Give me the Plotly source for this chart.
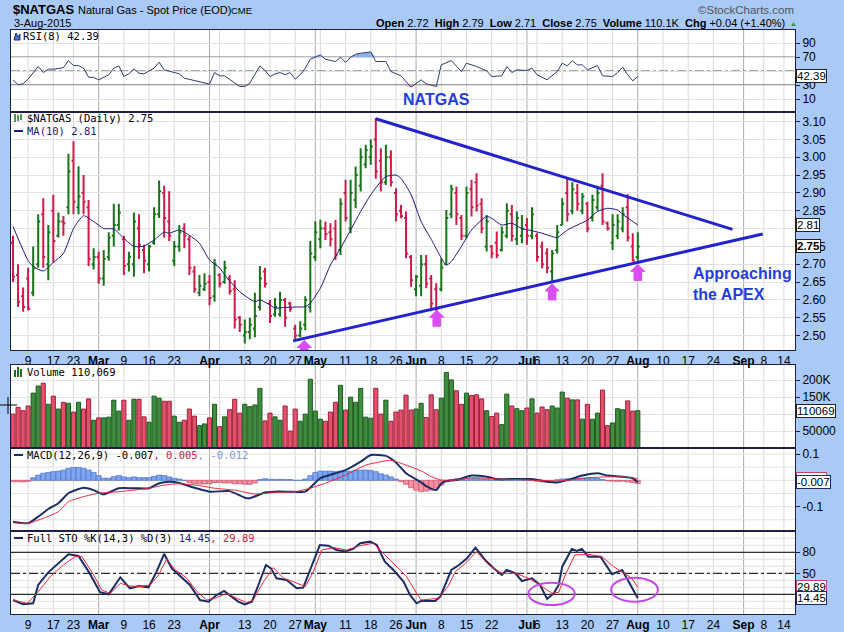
import plotly.graph_objects as go
import pandas as pd

W, H = 844, 632

# ---------------- calendar / ticks ----------------
first_day = "2015-02-04"
axis_end_day = "2015-09-30"
holidays = ["2015-02-16", "2015-04-03", "2015-05-25", "2015-07-03", "2015-09-07"]

tick_dates = ["2015-02-09", "2015-02-17", "2015-02-23", "2015-03-02", "2015-03-09", "2015-03-16",
              "2015-03-23", "2015-04-01", "2015-04-13", "2015-04-20", "2015-04-27", "2015-05-01",
              "2015-05-11", "2015-05-18", "2015-05-26", "2015-06-01", "2015-06-08", "2015-06-15",
              "2015-06-22", "2015-07-01", "2015-07-06", "2015-07-13", "2015-07-20", "2015-07-27",
              "2015-08-03", "2015-08-10", "2015-08-17", "2015-08-24", "2015-09-01", "2015-09-08",
              "2015-09-14"]
tick_labels = ["9", "17", "23", "<b>Mar</b>", "9", "16", "23", "<b>Apr</b>", "13", "20", "27", "<b>May</b>",
               "11", "18", "26", "<b>Jun</b>", "8", "15", "22", "<b>Jul</b>", "6", "13", "20", "27",
               "<b>Aug</b>", "10", "17", "24", "<b>Sep</b>", "8", "14"]
extra_grid_dates = ["2015-04-06", "2015-05-04", "2015-06-29"]
month_dates = ["2015-03-02", "2015-04-01", "2015-05-01", "2015-06-01", "2015-07-01", "2015-08-03", "2015-09-01"]

# ---------------- price data ----------------
bar_colors = list("RRRRGGRGRG" "RGRGRRGRGG" "GGRGGRRGGG" "RRGGRRRGGR" "GRGRRRGGGG"
                  "RRGGRRRGGG" "GGRRRGRGGG" "GGRRGRRRRR" "GGRRRGGGRR" "GRRRGRRGGR"
                  "GGRGRRRGGG" "RGRGRGGRRG" "GGRRG")

highs = [2.78, 2.70, 2.635, 2.69, 2.75, 2.84, 2.885, 2.81, 2.895, 2.845,
         2.835, 3.01, 3.045, 2.975, 2.95, 2.88, 2.745, 2.735, 2.74, 2.79,
         2.87, 2.87, 2.78, 2.735, 2.845, 2.84, 2.755, 2.755, 2.86, 2.935,
         2.92, 2.905, 2.765, 2.81, 2.815, 2.78, 2.695, 2.67, 2.675, 2.67,
         2.715, 2.675, 2.71, 2.67, 2.655, 2.555, 2.545, 2.55, 2.62, 2.695,
         2.69, 2.60, 2.605, 2.623, 2.605, 2.595, 2.53, 2.54, 2.61, 2.765,
         2.82, 2.825, 2.82, 2.815, 2.824, 2.885, 2.937, 2.937, 2.974, 3.025,
         3.035, 3.05, 3.11, 3.025, 3.035, 3.02, 2.913, 2.866, 2.848, 2.726,
         2.67, 2.726, 2.726, 2.67, 2.647, 2.717, 2.852, 2.923, 2.918, 2.838,
         2.918, 2.937, 2.955, 2.885, 2.838, 2.754, 2.792, 2.806, 2.871, 2.866,
         2.848, 2.838, 2.83, 2.86, 2.787, 2.764, 2.745, 2.74, 2.81, 2.885,
         2.941, 2.93, 2.925, 2.90, 2.875, 2.895, 2.92, 2.955, 2.82, 2.84,
         2.84, 2.86, 2.896, 2.787, 2.79]
lows = [2.65, 2.58, 2.567, 2.57, 2.61, 2.69, 2.69, 2.655, 2.705, 2.775,
        2.78, 2.84, 2.84, 2.84, 2.84, 2.695, 2.685, 2.645, 2.64, 2.71,
        2.75, 2.795, 2.67, 2.68, 2.665, 2.715, 2.675, 2.68, 2.755, 2.83,
        2.775, 2.765, 2.695, 2.735, 2.745, 2.67, 2.62, 2.61, 2.625, 2.585,
        2.595, 2.635, 2.645, 2.615, 2.52, 2.51, 2.478, 2.49, 2.495, 2.57,
        2.635, 2.535, 2.553, 2.553, 2.525, 2.567, 2.488, 2.495, 2.515, 2.565,
        2.71, 2.745, 2.768, 2.75, 2.712, 2.726, 2.82, 2.787, 2.857, 2.904,
        2.969, 2.979, 2.94, 2.904, 2.922, 2.918, 2.82, 2.829, 2.717, 2.637,
        2.61, 2.61, 2.633, 2.568, 2.555, 2.624, 2.698, 2.829, 2.81, 2.768,
        2.773, 2.834, 2.848, 2.787, 2.736, 2.717, 2.717, 2.736, 2.773, 2.764,
        2.754, 2.759, 2.755, 2.77, 2.708, 2.689, 2.675, 2.652, 2.73, 2.81,
        2.82, 2.84, 2.85, 2.84, 2.79, 2.82, 2.85, 2.81, 2.795, 2.74,
        2.77, 2.79, 2.764, 2.708, 2.71]
opens = [2.76, 2.67, 2.61, 2.66, 2.62, 2.70, 2.84, 2.70, 2.85, 2.78,
         2.82, 2.86, 2.99, 2.86, 2.90, 2.86, 2.70, 2.72, 2.66, 2.72,
         2.78, 2.81, 2.77, 2.70, 2.70, 2.80, 2.74, 2.70, 2.76, 2.84,
         2.90, 2.82, 2.71, 2.75, 2.80, 2.77, 2.68, 2.62, 2.63, 2.65,
         2.61, 2.67, 2.65, 2.66, 2.63, 2.55, 2.50, 2.51, 2.52, 2.58,
         2.68, 2.59, 2.56, 2.56, 2.60, 2.59, 2.52, 2.50, 2.53, 2.58,
         2.72, 2.77, 2.80, 2.79, 2.80, 2.74, 2.90, 2.80, 2.88, 2.92,
         2.98, 3.00, 3.05, 2.99, 2.93, 3.00, 2.90, 2.85, 2.83, 2.72,
         2.63, 2.64, 2.70, 2.66, 2.63, 2.63, 2.70, 2.84, 2.90, 2.83,
         2.78, 2.91, 2.93, 2.87, 2.75, 2.75, 2.76, 2.74, 2.78, 2.84,
         2.77, 2.78, 2.81, 2.78, 2.78, 2.75, 2.73, 2.68, 2.74, 2.81,
         2.90, 2.85, 2.90, 2.85, 2.87, 2.83, 2.86, 2.92, 2.815, 2.76,
         2.78, 2.80, 2.86, 2.75, 2.72]
closes = [2.665, 2.595, 2.58, 2.575, 2.69, 2.82, 2.72, 2.79, 2.765, 2.82,
          2.815, 2.96, 2.875, 2.89, 2.875, 2.715, 2.72, 2.66, 2.715, 2.775,
          2.81, 2.845, 2.695, 2.72, 2.82, 2.755, 2.71, 2.75, 2.84, 2.905,
          2.83, 2.78, 2.75, 2.79, 2.78, 2.69, 2.63, 2.64, 2.645, 2.605,
          2.70, 2.645, 2.69, 2.625, 2.545, 2.53, 2.51, 2.53, 2.555, 2.66,
          2.645, 2.555, 2.58, 2.60, 2.55, 2.575, 2.50, 2.52, 2.60, 2.73,
          2.79, 2.80, 2.785, 2.77, 2.725, 2.87, 2.83, 2.90, 2.95, 3.00,
          3.02, 3.03, 2.96, 2.93, 3.00, 2.93, 2.84, 2.835, 2.73, 2.655,
          2.665, 2.70, 2.645, 2.59, 2.575, 2.69, 2.83, 2.91, 2.84, 2.78,
          2.90, 2.86, 2.865, 2.80, 2.82, 2.73, 2.725, 2.79, 2.85, 2.78,
          2.83, 2.80, 2.78, 2.84, 2.72, 2.70, 2.69, 2.73, 2.79, 2.87,
          2.84, 2.91, 2.87, 2.89, 2.80, 2.88, 2.90, 2.82, 2.80, 2.81,
          2.82, 2.84, 2.775, 2.71, 2.75]
volume_k = [100, 120, 110, 124, 162, 183, 191, 129, 153, 115,
            135, 132, 106, 135, 115, 145, 82, 89, 89, 91,
            141, 109, 141, 82, 144, 144, 92, 76, 153, 147,
            138, 138, 94, 76, 82, 115, 94, 66, 71, 89,
            129, 63, 92, 113, 144, 103, 129, 122, 127, 176,
            80, 103, 92, 82, 124, 50, 115, 79, 100, 203,
            109, 85, 79, 106, 135, 185, 112, 150, 135, 176,
            91, 88, 176, 100, 141, 79, 106, 112, 156, 112,
            115, 132, 90, 157, 113, 147, 223, 201, 169, 129,
            162, 155, 157, 145, 110, 93, 103, 69, 159, 124,
            116, 110, 118, 145, 103, 121, 113, 124, 118, 165,
            147, 142, 142, 85, 129, 85, 103, 171, 66, 74,
            116, 113, 139, 109, 110.069]

ma10_days = [0, 3, 4, 6, 8, 10, 12, 14, 16, 18, 20, 22, 24, 26, 28, 30, 31, 33, 35, 37, 39, 41, 42,
             45, 48, 49, 51, 52, 54, 56, 58, 59, 61, 63, 65, 67, 69, 71, 73, 74, 76, 77, 79, 81,
             83, 86, 87, 89, 91, 94, 95, 97, 99, 101, 103, 105, 107, 108, 110, 112, 114, 116, 118,
             120, 121, 123, 124]
ma10 = [2.806, 2.71, 2.694, 2.681, 2.705, 2.73, 2.80, 2.836, 2.82, 2.80, 2.799, 2.773, 2.75, 2.751,
        2.768, 2.79, 2.787, 2.796, 2.781, 2.759, 2.712, 2.69, 2.67,
        2.623, 2.595, 2.60, 2.586, 2.577, 2.579, 2.58, 2.581, 2.591, 2.633, 2.698, 2.745, 2.796,
        2.848, 2.895, 2.932, 2.946, 2.95, 2.941, 2.895, 2.82,
        2.77, 2.698, 2.708, 2.75, 2.796, 2.834, 2.829, 2.81, 2.815, 2.80, 2.794, 2.787, 2.778,
        2.775, 2.796, 2.81, 2.824, 2.848, 2.857, 2.852, 2.84, 2.82, 2.81]

# ---------------- indicators ----------------
rsi_days = [0, 1, 2, 3, 5, 6, 7, 8, 10, 11, 12, 13, 14, 15, 16, 17, 19, 20, 21, 22, 23, 24, 25, 26,
            28, 29, 30, 32, 33, 34, 36, 37, 39, 40, 41, 42, 43, 44, 45, 46, 47, 49, 50, 51, 52, 53,
            54, 55, 56, 57, 58, 59, 61, 62, 64, 65, 66, 67, 68, 69, 71, 72, 74, 75, 77, 79, 80, 81,
            82, 84, 85, 87, 89, 90, 92, 94, 95, 97, 98, 99, 100, 102, 103, 104, 106, 108, 109, 110,
            111, 112, 113, 114, 116, 117, 119, 120, 121, 122, 123, 124]
rsi8 = [37.6, 30.5, 32, 38.6, 56.7, 48, 52.9, 52.9, 55, 65, 58, 58, 54.3, 41.4, 41, 37.6, 44.8, 54.3,
        57.6, 42.4, 46.2, 53.3, 47.1, 46.2, 54.3, 62.9, 51.9, 48, 46.2, 40, 36.7, 35.7, 31.4, 48,
        43.3, 43.3, 38.6, 32.9, 28.1, 28.1, 32.9, 57.6, 51, 42.4, 46.2, 48, 44.8, 48, 38.6, 44.8,
        54.3, 67.1, 73.3, 67.1, 63.8, 70, 62.4, 70, 74.3, 75.7, 77.6, 63.8, 63.8, 49.5, 43.3, 27.1,
        32.9, 37.6, 31.9, 28.1, 59, 65.2, 49.5, 61.4, 56.7, 50.5, 42.4, 43.3, 56.7, 48, 51.9, 51,
        54.3, 44.8, 37.6, 49.5, 61.4, 57.6, 64.8, 59, 59, 51.9, 58, 43.3, 42.4, 48, 55.7, 44.8,
        36.2, 42.39]

macd_days = [0, 3, 5, 7, 9, 11, 14, 16, 18, 21, 24, 27, 29, 31, 33, 36, 39, 43, 46, 47, 50, 52, 55,
             58, 61, 64, 66, 69, 71, 74, 76, 78, 81, 82, 84, 85, 86, 88, 91, 94, 96, 100, 103, 106,
             108, 110, 113, 116, 118, 121, 123, 124]
macd = [-0.157, -0.163, -0.138, -0.109, -0.087, -0.049, -0.028, -0.037, -0.053, -0.030, -0.030,
        -0.030, -0.011, -0.005, -0.010, -0.028, -0.043, -0.041, -0.066, -0.068, -0.046, -0.043,
        -0.043, -0.043, 0.008, 0.027, 0.039, 0.071, 0.096, 0.093, 0.068, 0.027, -0.008, -0.022,
        -0.037, -0.012, -0.003, 0.001, 0.018, 0.014, 0.005, 0.005, 0.005, -0.005, -0.008, 0.001,
        0.018, 0.027, 0.018, 0.014, 0.008, -0.007]
signal_days = [0, 3, 6, 9, 11, 14, 17, 21, 24, 27, 30, 33, 37, 40, 44, 48, 52, 56, 59, 62, 66, 70, 72,
               75, 78, 81, 83, 85, 88, 91, 94, 97, 100, 104, 108, 111, 114, 118, 121, 123, 124]
signal = [-0.161, -0.163, -0.144, -0.119, -0.081, -0.062, -0.049, -0.043, -0.037, -0.030, -0.018,
          -0.013, -0.020, -0.030, -0.037, -0.052, -0.046, -0.043, -0.030, -0.011, 0.020, 0.058,
          0.067, 0.076, 0.058, 0.036, 0.014, 0.001, 0.001, 0.010, 0.008, 0.004, 0.003, 0.000,
          -0.003, 0.002, 0.010, 0.013, 0.013, 0.010, 0.005]
macd_hist = [-0.005, -0.005, -0.006, -0.004, 0.010, 0.020, 0.027, 0.030, 0.033, 0.035,
             0.039, 0.046, 0.049, 0.049, 0.046, 0.039, 0.030, 0.018, 0.008, 0.008,
             0.014, 0.018, 0.013, 0.010, 0.013, 0.010, 0.010, 0.010, 0.015, 0.020,
             0.018, 0.013, 0.008, 0.005, 0.000, -0.008, -0.013, -0.014, -0.014, -0.013,
             -0.008, -0.008, -0.010, -0.010, -0.013, -0.013, -0.015, -0.015, -0.010, 0.003,
             0.006, 0.004, 0.003, 0.004, 0.003, 0.003, 0.000, 0.000, 0.005, 0.018,
             0.030, 0.035, 0.035, 0.035, 0.033, 0.035, 0.033, 0.035, 0.039, 0.039,
             0.039, 0.038, 0.033, 0.025, 0.020, 0.013, 0.005, -0.005, -0.015, -0.028,
             -0.037, -0.043, -0.041, -0.037, -0.030, -0.018, -0.005, 0.003, 0.006, 0.006,
             0.007, 0.008, 0.007, 0.006, 0.005, 0.002, 0.001, 0.000, 0.002, 0.001,
             0.002, 0.002, 0.001, 0.001, -0.004, -0.006, -0.007, -0.005, 0.002, 0.005,
             0.006, 0.007, 0.007, 0.008, 0.007, 0.008, 0.007, 0.003, -0.002, -0.003,
             -0.004, -0.003, -0.006, -0.009, -0.012]

stok_days = [0, 2, 4, 5, 7, 9, 11, 13, 15, 17.3, 19, 21.3, 23.2, 25, 26.9, 28.5, 30, 31.5, 33.2, 35.1,
             37.1, 38.8, 40.4, 41.9, 43.1, 44.7, 46, 47.4, 48.7, 50.2, 51.2, 52.3, 54.3, 56.3, 57.6,
             59.3, 60.9, 62.6, 64.2, 65.9, 67.5, 68.9, 70.9, 72.2, 73.8, 75.5, 77.5, 78.8, 80.1, 81,
             83.8, 84.8, 87, 88.5, 90.1, 91.8, 93.7, 95.4, 97, 98, 99.7, 101, 103, 104.6, 106, 107.3,
             108.3, 109, 110.9, 111.9, 112.9, 114.2, 116.6, 118.9, 120.9, 122.2, 124]
sto_k = [11.9, 5.7, 7.1, 33.3, 51.4, 64.3, 77.1, 74.8, 52.4, 22.9, 20, 44.3, 28.6, 31.9, 30, 52.4,
         77.6, 57.1, 45.2, 33.3, 11.9, 9.5, 19, 24.8, 18.1, 9.5, 5.7, 9.5, 33.3, 61.9, 57.1, 42.9,
         40.5, 28.6, 29.5, 61.9, 90.5, 89.5, 83.3, 81, 84.8, 92.9, 95.2, 90.5, 66.7, 54.8, 38.1, 19,
         7.1, 10.5, 10.5, 16.7, 54.8, 61.9, 71.4, 86.7, 69, 57.1, 47.6, 54.8, 50, 39, 42.9, 33.3,
         13.3, 21.4, 33.3, 59.5, 84.8, 81.9, 84.8, 73.8, 73.8, 48.6, 54.8, 38.1, 14.45]
stod_days = [0, 2.8, 5, 7.4, 10, 12.3, 13.7, 16, 17.6, 19.3, 21.3, 23.2, 25.2, 27.2, 28.9, 30.5, 32.2,
             34.5, 36.5, 38.4, 40.4, 42.4, 44.4, 46.4, 47.7, 49.7, 51.7, 53.7, 55.6, 58, 59.6, 61.3,
             63.6, 66.2, 68.9, 71.5, 73.5, 75.5, 78.1, 80.1, 81, 84.5, 86.5, 87.8, 89.8, 92, 94.4, 97,
             99.7, 102.3, 104.3, 107, 108.3, 109.6, 111.5, 114.2, 116.9, 119.2, 121.2, 122.8, 124]
sto_d = [11.9, 7.1, 23.8, 45.2, 61.9, 73.8, 73.8, 47.6, 26.2, 21.4, 35.7, 31.9, 31, 33.3, 47.6, 70.5,
         54.8, 42.9, 23.8, 11.9, 15.2, 21.4, 14.3, 8.1, 11.9, 38.1, 58.1, 42.9, 38.1, 31, 52.4, 83.3,
         86.7, 83.3, 89.5, 92.9, 78.6, 64.3, 45.2, 21.4, 11.9, 14.3, 33.3, 52.4, 64.3, 81, 61.9, 50,
         50, 42.9, 34.3, 21.4, 22.9, 47.6, 76.2, 77.1, 73.8, 59.5, 50, 42.9, 29.89]

# analyst drawings (trendlines, arrows, circles)
upper_trend_x, upper_trend_y = [72.0, 142.8], [3.108, 2.798]
lower_trend_x, lower_trend_y = [55.6, 148.8], [2.485, 2.785]
arrow_days = [57.8, 84.1, 107.0, 124.0]

# ---------------- styling ----------------
BG = "#A9C9F7"
AX = "#1e1e46"
GRID = "#e2e2e2"
WEEK = "#dadada"
MONTH = "#ababab"
GREEN = "#187318"
RED = "#d01a4a"
NAVY = "#1c2c66"
SIGRED = "#e8283c"
BLUE_TXT = "#1f3fdc"
TREND = "#2222d0"
MAGENTA = "#dc4cf4"
ARIAL = "Arial, Liberation Sans, sans-serif"
MONO = "DejaVu Sans Mono, monospace"

cal = [d.strftime("%Y-%m-%d") for d in pd.bdate_range(first_day, axis_end_day)]
cal = [d for d in cal if d not in holidays]
pos = {d: i for i, d in enumerate(cal)}
tick_pos = [pos[d] for d in tick_dates]
XR = [-0.4, 155.2]
days = list(range(len(closes)))


def pyd(top, bottom):
    return [1 - bottom / H, 1 - top / H]


panels = [  # (top px, bottom px, y range)
    (30, 112, [-8.5, 109]),
    (112, 350, [2.4595, 3.127]),
    (365, 448, [0, 245000]),
    (448, 531, [-0.1924, 0.1228]),
    (531, 614, [-8.1, 110.4]),
]

fig = go.Figure()

# ---- RSI ----
fig.add_trace(go.Scatter(x=rsi_days, y=[70] * len(rsi_days), mode="lines", line=dict(width=0),
                         hoverinfo="skip", xaxis="x", yaxis="y"))
fig.add_trace(go.Scatter(x=rsi_days, y=[max(v, 70) for v in rsi8], mode="lines", line=dict(width=0),
                         fill="tonexty", fillcolor="#8fb0ea", hoverinfo="skip", xaxis="x", yaxis="y"))
fig.add_trace(go.Scatter(x=rsi_days, y=[30] * len(rsi_days), mode="lines", line=dict(width=0),
                         hoverinfo="skip", xaxis="x", yaxis="y"))
fig.add_trace(go.Scatter(x=rsi_days, y=[min(v, 30) for v in rsi8], mode="lines", line=dict(width=0),
                         fill="tonexty", fillcolor="#f2a2b6", hoverinfo="skip", xaxis="x", yaxis="y"))
fig.add_trace(go.Scatter(x=rsi_days, y=rsi8, mode="lines", line=dict(color="#2e3f6e", width=1),
                         xaxis="x", yaxis="y"))

# ---- Price ----
for code, col in (("G", GREEN), ("R", RED)):
    idx = [i for i in days if bar_colors[i] == code]
    fig.add_trace(go.Ohlc(x=idx, open=[opens[i] for i in idx], high=[highs[i] for i in idx],
                          low=[lows[i] for i in idx], close=[closes[i] for i in idx],
                          increasing=dict(line=dict(color=col, width=2)),
                          decreasing=dict(line=dict(color=col, width=2)),
                          tickwidth=0.4, hoverinfo="skip", xaxis="x2", yaxis="y2"))
fig.add_trace(go.Scatter(x=ma10_days, y=ma10, mode="lines",
                         line=dict(color="#1a1a78", width=1, shape="spline", smoothing=0.6),
                         xaxis="x2", yaxis="y2"))
fig.add_trace(go.Scatter(x=upper_trend_x, y=upper_trend_y, mode="lines", line=dict(color=TREND, width=3),
                         xaxis="x2", yaxis="y2"))
fig.add_trace(go.Scatter(x=lower_trend_x, y=lower_trend_y, mode="lines", line=dict(color=TREND, width=3),
                         xaxis="x2", yaxis="y2"))

# ---- Volume ----
vfill = ["#3f8d3f" if c == "G" else "#e2526c" for c in bar_colors]
vedge = ["#1d5a1d" if c == "G" else "#a0203c" for c in bar_colors]
fig.add_trace(go.Bar(x=days, y=[v * 1000 for v in volume_k], width=0.82,
                     marker=dict(color=vfill, line=dict(color=vedge, width=1)),
                     hoverinfo="skip", xaxis="x3", yaxis="y3"))

# ---- MACD ----
hfill = ["#7ea6ee" if v >= 0 else "#f5909e" for v in macd_hist]
hedge = ["#4a70c8" if v >= 0 else "#d0506a" for v in macd_hist]
fig.add_trace(go.Bar(x=days, y=macd_hist, width=1.0, marker=dict(color=hfill, line=dict(color=hedge, width=0.7)),
                     hoverinfo="skip", xaxis="x4", yaxis="y4"))
fig.add_trace(go.Scatter(x=macd_days, y=macd, mode="lines",
                         line=dict(color=NAVY, width=2, shape="spline", smoothing=0.5),
                         xaxis="x4", yaxis="y4"))
fig.add_trace(go.Scatter(x=signal_days, y=signal, mode="lines",
                         line=dict(color=SIGRED, width=1, shape="spline", smoothing=0.5),
                         xaxis="x4", yaxis="y4"))

# ---- STO ----
fig.add_trace(go.Scatter(x=stok_days, y=sto_k, mode="lines", line=dict(color=NAVY, width=2),
                         xaxis="x5", yaxis="y5"))
fig.add_trace(go.Scatter(x=stod_days, y=sto_d, mode="lines", line=dict(color=SIGRED, width=1),
                         xaxis="x5", yaxis="y5"))

# ---------------- axes ----------------
layout = dict(width=W, height=H, margin=dict(l=0, r=0, t=0, b=0), paper_bgcolor=BG, plot_bgcolor="white",
              showlegend=False, barmode="overlay", font=dict(family=ARIAL, size=12, color="black"))

price_ticks = [round(2.50 + 0.05 * k, 2) for k in range(13)]
ytick_cfg = [
    dict(tickvals=[10, 30, 50, 70, 90], ticktext=["10", "30", "", "70", "90"]),
    dict(tickvals=price_ticks, ticktext=["" if abs(v - 2.80) < 1e-9 else "%.2f" % v for v in price_ticks]),
    dict(tickvals=[50000, 100000, 150000, 200000], ticktext=["50000", "", "150K", "200K"]),
    dict(tickvals=[-0.1, 0.1], ticktext=["-0.1", "0.1"]),
    dict(tickvals=[20, 50, 80], ticktext=["", "50", "80"]),
]

for k, (top, bottom, yr) in enumerate(panels):
    n = "" if k == 0 else str(k + 1)
    xa = dict(domain=[11 / W, 795 / W], range=XR, anchor="y" + n, showgrid=False, zeroline=False,
              showline=True, mirror=True, linecolor=AX, linewidth=1, tickmode="array",
              tickvals=tick_pos, ticktext=tick_labels, ticks="", tickangle=0,
              showticklabels=(k in (1, 4)),
              tickfont=dict(size=12, family=ARIAL, color="black"), fixedrange=True)
    if k == 1:
        xa["rangeslider"] = dict(visible=False)
    ya = dict(domain=pyd(top, bottom), range=yr, side="right", anchor="x" + n, showline=True, mirror=True,
              linecolor=AX, linewidth=1, ticks="outside", ticklen=4, tickcolor=AX, zeroline=False,
              showgrid=(k in (0, 1, 2)), gridcolor=GRID, tickmode="array",
              tickfont=dict(size=12, family=ARIAL, color="black"), fixedrange=True, **ytick_cfg[k])
    layout["xaxis" + n] = xa
    layout["yaxis" + n] = ya

shapes = []
# vertical grid lines
for k in range(5):
    n = "" if k == 0 else str(k + 1)
    for d in tick_dates + extra_grid_dates:
        col = MONTH if d in month_dates else WEEK
        shapes.append(dict(type="line", xref="x" + n, yref="y" + n + " domain", x0=pos[d], x1=pos[d],
                           y0=0, y1=1, line=dict(color=col, width=1), layer="below"))
# extra horizontal grid (MACD every 0.05, STO every 10)
for v in [-0.15, -0.1, -0.05, 0.0, 0.05, 0.1]:
    shapes.append(dict(type="line", xref="x4 domain", yref="y4", x0=0, x1=1, y0=v, y1=v,
                       line=dict(color=GRID, width=1), layer="below"))
for v in range(0, 101, 10):
    shapes.append(dict(type="line", xref="x5 domain", yref="y5", x0=0, x1=1, y0=v, y1=v,
                       line=dict(color=GRID, width=1), layer="below"))
# RSI / STO reference lines
for yr_, lv in (("y", [70, 30]), ("y5", [80, 20])):
    xr_ = "x domain" if yr_ == "y" else "x5 domain"
    for v in lv:
        shapes.append(dict(type="line", xref=xr_, yref=yr_, x0=0, x1=1, y0=v, y1=v,
                           line=dict(color="black", width=1), layer="below"))
    shapes.append(dict(type="line", xref=xr_, yref=yr_, x0=0, x1=1, y0=50, y1=50,
                       line=dict(color="black", width=1, dash="dashdot"), layer="below"))

# magenta arrows under the lower trendline
slope = (lower_trend_y[1] - lower_trend_y[0]) / (lower_trend_x[1] - lower_trend_x[0])
dx, dy = 1 / 5.04, 1 / 356.7
for ad in arrow_days:
    ytop = lower_trend_y[0] + slope * (ad - lower_trend_x[0]) - 2 * dy
    pts = [(ad, ytop), (ad + 7 * dx, ytop - 7 * dy), (ad + 3.8 * dx, ytop - 7 * dy),
           (ad + 3.8 * dx, ytop - 16 * dy), (ad - 3.8 * dx, ytop - 16 * dy),
           (ad - 3.8 * dx, ytop - 7 * dy), (ad - 7 * dx, ytop - 7 * dy)]
    path = "M " + " L ".join("%.4f,%.5f" % p for p in pts) + " Z"
    shapes.append(dict(type="path", xref="x2", yref="y2", path=path, fillcolor=MAGENTA,
                       line=dict(color=MAGENTA, width=1), layer="above"))

# ellipses on STO
for x0, x1, y0, y1 in ((102.3, 111.5, 4.7, 36.6), (118.7, 128.0, 9.4, 43.7)):
    shapes.append(dict(type="circle", xref="x5", yref="y5", x0=x0, x1=x1, y0=y0, y1=y1,
                       line=dict(color="#c44ae8", width=2)))


def P(xp, yp):
    return xp / W, 1 - yp / H


def rect(x0, y0, x1, y1, col):
    a, b = P(x0, y0)
    c, d = P(x1, y1)
    return dict(type="rect", xref="paper", yref="paper", x0=a, y0=d, x1=c, y1=b,
                fillcolor=col, line=dict(width=0))


def seg(x0, y0, x1, y1, col, w=1):
    a, b = P(x0, y0)
    c, d = P(x1, y1)
    return dict(type="line", xref="paper", yref="paper", x0=a, y0=b, x1=c, y1=d, line=dict(color=col, width=w))


shapes += [
    dict(type="path", xref="paper", yref="paper",
         path="M %.4f,%.4f L %.4f,%.4f L %.4f,%.4f L %.4f,%.4f L %.4f,%.4f Z" % (
             *P(14, 40), *P(16, 33), *P(18, 37), *P(20, 34), *P(20, 40)),
         fillcolor="#4a7ad8", line=dict(color="#1c2c66", width=1)),
    seg(15, 114, 15, 122, GREEN, 1.5), seg(18, 115, 18, 121, GREEN, 1.5), seg(21, 114, 21, 120, GREEN, 1.5),
    seg(14, 131, 23, 131, "#1a1a78", 2),
    rect(14, 370, 16, 377, GREEN), rect(17, 367, 19, 377, GREEN), rect(20, 369, 22, 377, GREEN),
    seg(14, 455, 23, 455, NAVY, 2),
    seg(14, 538, 23, 538, NAVY, 2),
    seg(0, 405, 17, 405, "black", 1), seg(8, 397, 8, 414, "black", 1),
]
layout["shapes"] = shapes


def txt(xp, yp, text, size=12, color="black", family=ARIAL, anchor="left"):
    x, y = P(xp, yp)
    return dict(xref="paper", yref="paper", x=x, y=y, xanchor=anchor, yanchor="middle", text=text,
                showarrow=False, font=dict(size=size, color=color, family=family))


def box(text, yref, yval, border="#222222", bold=False):
    return dict(xref="paper", yref=yref, x=796 / W, y=yval, xanchor="left", yanchor="middle",
                text=("<b>%s</b>" % text) if bold else text, showarrow=False, bgcolor="white",
                bordercolor=border, borderwidth=1, borderpad=0,
                font=dict(size=11.5, color="black", family=ARIAL))


annotations = [
    txt(11, 10, "<b>$NATGAS</b>", 13),
    txt(76, 10, "Natural Gas - Spot Price (EOD)", 11),
    txt(229, 11, "CME", 9.5),
    txt(12, 23, "3-Aug-2015", 11),
    txt(787, 23, "<b>Open</b> 2.72  <b>High</b> 2.79  <b>Low</b> 2.71  <b>Close</b> 2.75  "
                 "<b>Volume</b> 110.1K  <b>Chg</b> +0.04 (+1.40%)", 11, anchor="right"),
    txt(788, 24, "▲", 7, color="#2a9a2a"),
    txt(796, 10, "©StockCharts.com", 11.5, color="#555555", anchor="right"),
    txt(21, 36, "RSI(8) 42.39", 10.5, family=MONO),
    txt(25, 118, "$NATGAS (Daily) 2.75", 10.5, family=MONO),
    txt(25, 131, "MA(10) 2.81", 10.5, color="#1a1a78", family=MONO),
    txt(25, 372, "Volume 110,069", 10.5, family=MONO),
    txt(25, 455, "MACD(12,26,9) -0.007<span style='color:#d02040'>, 0.005</span>"
                 "<span style='color:#7a9ad8'>, -0.012</span>", 10.5, family=MONO),
    txt(25, 538, "Full STO %K(14,3) %D(3) <span style='color:#1c2c66'>14.45</span>"
                 "<span style='color:#d02040'>, 29.89</span>", 10.5, family=MONO),
    txt(436, 100, "<b>NATGAS</b>", 16, color=BLUE_TXT, anchor="center"),
    txt(691, 273, "<b>Approaching</b>", 16, color=BLUE_TXT),
    txt(691, 294, "<b>the APEX</b>", 16, color=BLUE_TXT),
    box("42.39", "y", 42.39),
    box("2.81", "y2", 2.81),
    box("2.75", "y2", 2.75, bold=True),
    box("110069", "y3", 110069),
    box("0.005", "y4", 0.005, border="#d04070"),
    box("-0.007", "y4", -0.007, border="#1c2c66"),
    box("29.89", "y5", 29.89, border="#d04070"),
    box("14.45", "y5", 14.45, border="#1c2c66"),
]
layout["annotations"] = annotations

fig.update_layout(**layout)
fig.write_html("out.html", config={"displayModeBar": False},
               post_script="document.body.style.margin='0px';document.body.style.overflow='hidden';")
